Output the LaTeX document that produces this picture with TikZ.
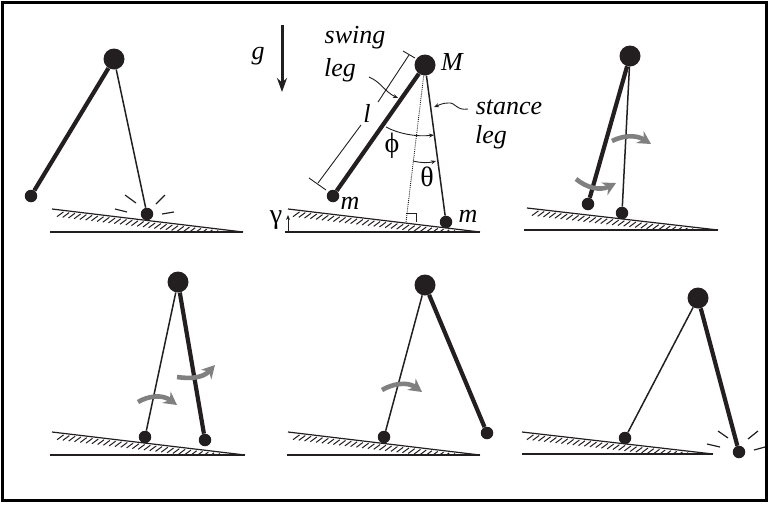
\documentclass[tikz,border=0pt]{standalone}
\usepackage{amsmath}
\usepackage{fontspec}
\setmainfont{Liberation Serif}
\usepackage{xcolor}
\usetikzlibrary{arrows.meta, positioning, calc}
\definecolor{massblack}{HTML}{231F20}
\definecolor{turngray}{HTML}{808080}

% slope: left x, top y of the incline, right x, bottom y, base left x
\newcommand{\slopeline}[5]{%
  \begin{scope}
    \clip (#1-8,#2) -- (#3,#4) -- (#1-8,#4) -- cycle;
    \foreach \t in {0.06,0.09,...,1.0}
      \draw[hatch] ($(#1,#2)!\t!(#3,#4)+(0,1.5)$) -- ++(-6.5,4.8);
  \end{scope}
  \draw[slope] (#1,#2) -- (#3,#4);
  \draw[slope] (#5,#4) -- (#3,#4);
}

\begin{document}
\begin{tikzpicture}[
    x=1pt, y=-1pt,
    hip/.style={circle, fill=massblack, inner sep=0pt, minimum size=21pt},
    foot/.style={circle, fill=massblack, inner sep=0pt, minimum size=12.5pt},
    swingleg/.style={line width=4.2pt, color=massblack},
    stanceleg/.style={line width=1.5pt, color=massblack},
    slope/.style={line width=1.2pt, color=massblack},
    hatch/.style={line width=1pt, color=massblack},
    thin line/.style={line width=0.9pt, color=massblack},
    spark/.style={line width=1.2pt, color=massblack},
    turn/.style={-{Stealth[length=13pt, width=14pt]}, line width=4.6pt, color=turngray},
    small arrow/.style={-{Stealth[length=5pt, width=4pt]}, line width=0.9pt, color=massblack},
    label/.style={font=\fontsize{26}{26}\selectfont\itshape, inner sep=0pt},
    angle/.style={font=\fontsize{28}{28}\selectfont, inner sep=0pt}
]
\useasboundingbox (0,0) rectangle (769,504);
\draw[line width=3pt] (2,2) rectangle (766.5,500.5);

% Top left
\slopeline{52}{209}{243}{232}{50}
\node[hip] (hipA) at (114,59) {};
\node[foot] (swingA) at (31,196) {};
\node[foot] (stanceA) at (147,214) {};
\draw[swingleg] (hipA) -- (swingA);
\draw[stanceleg] (hipA) -- (stanceA);
\draw[spark] (125,195) -- (136,203);
\draw[spark] (156,204) -- (165,195);
\draw[spark] (115,209) -- (127,212);
\draw[spark] (162,214) -- (174,212);

% Top middle
\slopeline{288}{209}{480}{232}{285}
\node[hip] (hipB) at (425,65) {};
\node[foot] (swingB) at (333,196) {};
\node[foot] (stanceB) at (446,222) {};
\coordinate (plumbB) at (406,222);
\draw[swingleg] (hipB) -- (swingB);
\draw[stanceleg] (hipB) -- (stanceB);
\draw[thin line, densely dotted] (hipB) -- (plumbB);
\draw[thin line] (406,213) -- (416,213) -- (416,222);

% Gravity
\coordinate (gTop) at (282,25);
\coordinate (gEnd) at (282,92);
\draw[-{Stealth[length=14pt, width=10pt]}, line width=3pt, color=massblack] (gTop) -- (gEnd);
\node[label] (gLabel) at (258,56) {g};

% Leg length
\draw[thin line] (403,51) -- (415,58);
\draw[thin line] (309,178) -- (326,190);
\draw[thin line] (409,55) -- (378,102);
\draw[thin line] (361,125) -- (318,183);
\node[label] (lLabel) at (367,113) {l};

% Labels and pointers
\node[label] (swingLabel) at (355,38) {swing};
\node[label] (swingLeg) at (340,70) {leg};
\node[label] (massHip) at (452,62) {M};
\node[label] (massSwing) at (350,203) {m};
\node[label] (massStance) at (468,216) {m};
\node[label] (stanceLabel) at (509,107) {stance};
\node[label] (stanceLeg) at (491,137) {leg};
\coordinate (swingFrom) at (369,77);
\coordinate (swingTo) at (398,98);
\draw[small arrow] (swingFrom) .. controls (381,82) and (385,92) .. (swingTo);
\coordinate (stanceFrom) at (468,109);
\coordinate (stanceTo) at (434,107);
\draw[small arrow] (stanceFrom) .. controls (456,111) and (456,102) .. (448,103) .. controls (443,103) and (439,105) .. (stanceTo);

% Angles
\coordinate (phiFrom) at (386,127);
\coordinate (phiTo) at (434,135);
\draw[small arrow] (phiFrom) .. controls (399,134) and (417,137) .. (phiTo);
\node[angle] (phiLabel) at (392,146) {ϕ};
\coordinate (thetaFrom) at (413,161);
\coordinate (thetaTo) at (436,161);
\draw[small arrow] (thetaFrom) .. controls (421,163) and (429,163) .. (thetaTo);
\node[angle] (thetaLabel) at (427,177) {θ};
\coordinate (gammaFrom) at (288,231);
\coordinate (gammaTo) at (288,215);
\draw[small arrow] (gammaFrom) -- (gammaTo);
\node[angle] (gammaLabel) at (276,220) {γ};

% Top right
\slopeline{527}{208}{718}{230}{524}
\node[hip] (hipC) at (630,56) {};
\node[foot] (swingC) at (588,204) {};
\node[foot] (stanceC) at (622,213) {};
\draw[swingleg] (hipC) -- (swingC);
\draw[stanceleg] (hipC) -- (stanceC);
\coordinate (turnCaFrom) at (612,141);
\coordinate (turnCaTo) at (651,144);
\draw[turn] (turnCaFrom) .. controls (622,136) and (635,134) .. (turnCaTo);
\coordinate (turnCbFrom) at (576,179);
\coordinate (turnCbTo) at (616,183);
\draw[turn] (turnCbFrom) .. controls (587,188) and (600,191) .. (turnCbTo);

% Bottom left
\slopeline{52}{432}{245}{455}{50}
\node[hip] (hipD) at (178,282) {};
\node[foot] (stanceD) at (145,437) {};
\node[foot] (swingD) at (205,440) {};
\draw[swingleg] (hipD) -- (swingD);
\draw[stanceleg] (hipD) -- (stanceD);
\coordinate (turnDaFrom) at (138,402);
\coordinate (turnDaTo) at (177,405);
\draw[turn] (turnDaFrom) .. controls (148,396) and (162,394) .. (turnDaTo);
\coordinate (turnDbFrom) at (177,377);
\coordinate (turnDbTo) at (215,365);
\draw[turn] (turnDbFrom) .. controls (190,379) and (203,378) .. (turnDbTo);

% Bottom middle
\slopeline{288}{432}{480}{455}{287}
\node[hip] (hipE) at (425,285) {};
\node[foot] (stanceE) at (384,437) {};
\node[foot] (swingE) at (487,433) {};
\draw[swingleg] (hipE) -- (swingE);
\draw[stanceleg] (hipE) -- (stanceE);
\coordinate (turnEFrom) at (382,390);
\coordinate (turnETo) at (422,392);
\draw[turn] (turnEFrom) .. controls (392,384) and (407,381) .. (turnETo);

% Bottom right
\slopeline{522}{432}{713}{454}{522}
\node[hip] (hipF) at (698,298) {};
\node[foot] (stanceF) at (625,438) {};
\node[foot] (swingF) at (739,452) {};
\draw[swingleg] (hipF) -- (swingF);
\draw[stanceleg] (hipF) -- (stanceF);
\draw[spark] (718,431) -- (728,438);
\draw[spark] (748,439) -- (758,431);
\draw[spark] (707,444) -- (720,447);
\draw[spark] (754,450) -- (765,447);

\end{tikzpicture}
\end{document}
